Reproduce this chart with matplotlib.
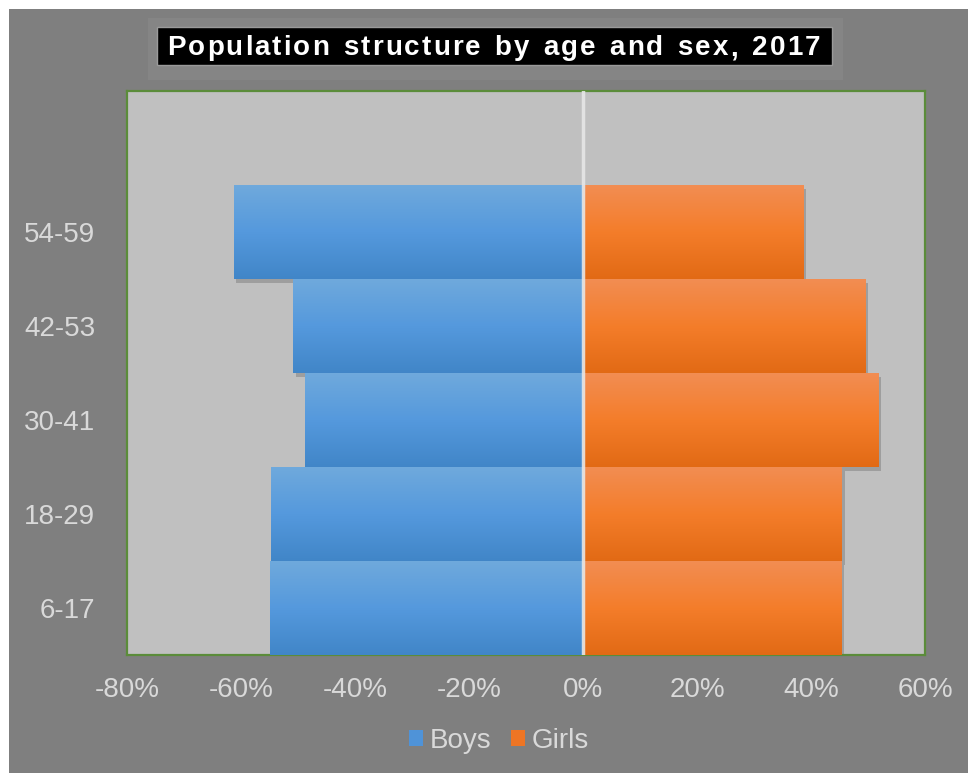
import numpy as np
import matplotlib
matplotlib.use("Agg")
import matplotlib.pyplot as plt
from matplotlib.patches import Rectangle
from matplotlib.ticker import FuncFormatter
import matplotlib.patheffects as pe

plt.rcParams['font.family'] = ['Liberation Sans', 'DejaVu Sans']

# ---- data ----
age_groups = ["6-17", "18-29", "30-41", "42-53", "54-59", ""]
boys = [-55.0, -54.7, -48.8, -50.9, -61.3, 0]
girls = [45.3, 45.4, 51.8, 49.5, 38.7, 0]
x_ticks = [-80, -60, -40, -20, 0, 20, 40, 60]
title = "Population structure by age and sex, 2017"

W, H = 968, 773
fig = plt.figure(figsize=(W / 100, H / 100), dpi=100, facecolor="white")

# gray chart background (white strip at top and left)
fig.patches.append(Rectangle((9 / W, 0), 1 - 9 / W, 1 - 9 / H, transform=fig.transFigure,
                             facecolor="#7f7f7f", edgecolor="none", zorder=0))
# title boxes
fig.patches.append(Rectangle((148 / W, 1 - 80 / H), (843 - 148) / W, (80 - 18) / H,
                             transform=fig.transFigure, facecolor="#858585",
                             edgecolor="none", zorder=1))
fig.patches.append(Rectangle((157 / W, 1 - 65 / H), (832 - 157) / W, (65 - 27) / H,
                             transform=fig.transFigure, facecolor="black",
                             edgecolor="#9a9a9a", linewidth=1, zorder=2))

# letter-spaced title, laid out character by character
renderer = fig.canvas.get_renderer()
tfont = dict(color="white", fontsize=20, fontweight="bold", va="baseline", ha="left", zorder=3)
widths = []
for ch in title:
    t = fig.text(0, 0, ch if ch != " " else "n", **tfont)
    bb = t.get_window_extent(renderer)
    widths.append(bb.width * (0.6 if ch == " " else 1.0))
    t.remove()
target_left, target_right = 167, 820
spacing = ((target_right - target_left) - sum(widths)) / (len(title) - 1)
xpos = target_left
for ch, w in zip(title, widths):
    if ch != " ":
        fig.text(xpos / W, 1 - 55 / H, ch, **tfont)
    xpos += w + spacing

ax = fig.add_axes([127 / W, 1 - 655 / H, (925 - 127) / W, (655 - 91) / H])
ax.set_facecolor("#c0c0c0")
ax.set_zorder(2)

y = np.arange(len(age_groups))
shadow = [pe.SimplePatchShadow(offset=(2, -3), shadow_rgbFace="#606060", alpha=0.35), pe.Normal()]
bars_b = ax.barh(y, boys, height=1.0, color="#5599dd", edgecolor="none", zorder=2,
                 path_effects=shadow, label="Boys")
bars_g = ax.barh(y, girls, height=1.0, color="#f47d2a", edgecolor="none", zorder=2,
                 path_effects=shadow, label="Girls")

# vertical gradients on bars (top light -> bottom dark)
grad_b = np.array([[0.435, 0.663, 0.863], [0.333, 0.600, 0.867], [0.255, 0.525, 0.784]])
grad_g = np.array([[0.949, 0.553, 0.322], [0.957, 0.490, 0.165], [0.886, 0.416, 0.082]])


def gradient_img(stops, n=64):
    t = np.linspace(0, 1, n)
    img = np.zeros((n, 1, 3))
    for c in range(3):
        img[:, 0, c] = np.interp(t, [0, 0.5, 1], stops[:, c])
    return img


for bars, stops in ((bars_b, grad_b), (bars_g, grad_g)):
    img = gradient_img(stops)
    for b in bars:
        w = b.get_width()
        if w == 0:
            continue
        x0, y0, h = b.get_x(), b.get_y(), b.get_height()
        im = ax.imshow(img, extent=(x0, x0 + w, y0, y0 + h), aspect="auto",
                       interpolation="bilinear", zorder=3, origin="upper")
        im.set_clip_path(b)

ax.axvline(0, color="#e6e6e6", linewidth=2.5, alpha=0.9, zorder=4)

ax.set_xlim(-80, 60)
ax.set_ylim(-0.5, len(age_groups) - 0.5)
ax.set_xticks(x_ticks)
ax.xaxis.set_major_formatter(FuncFormatter(lambda v, p: f"{v:.0f}%"))
ax.set_yticks(y)
ax.set_yticklabels(age_groups)
ax.tick_params(axis="both", length=0, labelsize=20, colors="#d9d9d9")
ax.tick_params(axis="x", pad=16)
ax.tick_params(axis="y", pad=23)
for s in ax.spines.values():
    s.set_color("#5b8c3a")
    s.set_linewidth(1.6)

leg = fig.legend(handles=[bars_b, bars_g], labels=["Boys", "Girls"], loc="center",
                 bbox_to_anchor=(499 / W, 1 - 741 / H), ncol=2, frameon=False,
                 fontsize=20, handlelength=0.5, handleheight=0.5, handletextpad=0.25,
                 columnspacing=0.7, labelcolor="#d9d9d9")
for h in leg.legend_handles:
    h.set_path_effects([])
leg.legend_handles[0].set_facecolor("#4f93d8")
leg.legend_handles[1].set_facecolor("#ee7524")

fig.savefig("out.png", dpi=100, facecolor="white")
